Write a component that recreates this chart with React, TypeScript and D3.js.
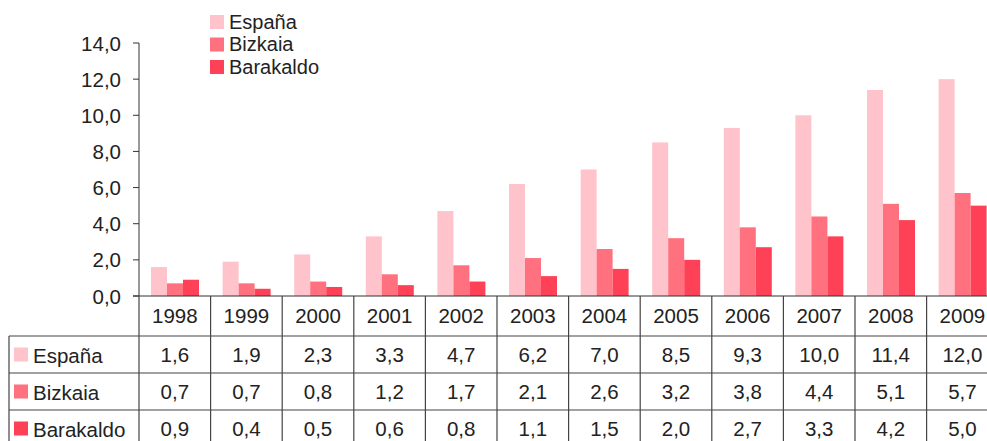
import React, { useEffect } from "react";
import * as d3 from "d3";

const years = ["1998","1999","2000","2001","2002","2003","2004","2005","2006","2007","2008","2009"];
const seriesNames = ["España", "Bizkaia", "Barakaldo"];
const espana = [1.6,1.9,2.3,3.3,4.7,6.2,7.0,8.5,9.3,10.0,11.4,12.0];
const bizkaia = [0.7,0.7,0.8,1.2,1.7,2.1,2.6,3.2,3.8,4.4,5.1,5.7];
const barakaldo = [0.9,0.4,0.5,0.6,0.8,1.1,1.5,2.0,2.7,3.3,4.2,5.0];
const yTicks = [0,2,4,6,8,10,12,14];
const colors = ["#FFC4CB", "#FF717F", "#FF4157"];

const W = 987, H = 441;
const left = 139, catW = 71.6;
const y0 = 296, yTop = 43;
const rows = [336, 373, 410, 447];
const FONT = "'Liberation Sans', Arial, sans-serif";
const textColor = "#222";
const FS = 20.5;
const fmt = (v: number) => v.toFixed(1).replace(".", ",");

export default function App() {
  useEffect(() => { document.body.style.margin = "0"; }, []);
  const data = [espana, bizkaia, barakaldo];
  const x = d3.scaleBand<string>().domain(years).range([left, left + catW * years.length]).padding(0);
  const x1 = d3.scaleBand<string>().domain(seriesNames).range([12, 60]).padding(0);
  const y = d3.scaleLinear().domain([0, 14]).range([y0, yTop]);
  const lineColor = "#444";
  return (
    <svg width={W} height={H} style={{ display: "block", fontFamily: FONT }}>
      {data.map((vals, si) =>
        vals.map((v, i) => (
          <rect key={si + "-" + i} x={(x(years[i]) as number) + (x1(seriesNames[si]) as number)} y={y(v)}
            width={x1.bandwidth()} height={y0 - y(v)} fill={colors[si]} />
        ))
      )}
      <line x1={left} x2={left} y1={yTop} y2={y0} stroke="#333" strokeWidth={1} />
      {yTicks.map(t => (
        <g key={t}>
          <line x1={left - 6} x2={left} y1={y(t)} y2={y(t)} stroke="#333" />
          <text x={121} y={y(t) + 7.5} textAnchor="end" fontSize={FS} fill={textColor}>{fmt(t)}</text>
        </g>
      ))}
      <line x1={left - 6} x2={W} y1={y0} y2={y0} stroke="#333" />
      {rows.slice(0, 3).map(r => (
        <line key={r} x1={9} x2={W} y1={r} y2={r} stroke={lineColor} strokeWidth={1.2} />
      ))}
      <line x1={9} x2={9} y1={rows[0]} y2={H} stroke={lineColor} strokeWidth={1.2} />
      {years.map(yr => (
        <line key={"v" + yr} x1={(x(yr) as number)} x2={(x(yr) as number)} y1={y0} y2={H} stroke={lineColor} strokeWidth={1.2} />
      ))}
      <line x1={left + catW * years.length} x2={left + catW * years.length} y1={y0} y2={H} stroke={lineColor} strokeWidth={1.2} />
      {years.map(yr => (
        <text key={"h" + yr} x={(x(yr) as number) + x.bandwidth() / 2} y={322.5} textAnchor="middle" fontSize={FS} fill={textColor}>{yr}</text>
      ))}
      {data.map((vals, si) => {
        const cy = (rows[si] + rows[si + 1]) / 2;
        return (
          <g key={"r" + si}>
            <rect x={14} y={cy - 7} width={14} height={14} fill={colors[si]} />
            <text x={33} y={cy + 8.5} fontSize={FS} fill={textColor}>{seriesNames[si]}</text>
            {vals.map((v, i) => (
              <text key={i} x={(x(years[i]) as number) + x.bandwidth() / 2} y={cy + 7.5} textAnchor="middle" fontSize={FS} fill={textColor}>{fmt(v)}</text>
            ))}
          </g>
        );
      })}
      {seriesNames.map((s, i) => (
        <g key={"l" + s}>
          <rect x={210} y={15 + i * 22.5} width={14} height={14} fill={colors[i]} />
          <text x={229} y={28.5 + i * 22.5} fontSize={20} fill={textColor}>{s}</text>
        </g>
      ))}
    </svg>
  );
}
